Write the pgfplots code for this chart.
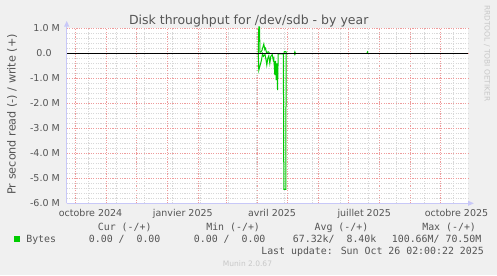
\documentclass[border=0pt]{standalone}
\usepackage{fontspec}
\setmainfont{DejaVu Sans}
\newfontfamily\monofont{DejaVu Sans Mono}
\usepackage{pgfplots}
\pgfplotsset{compat=1.18}
\definecolor{bgc}{HTML}{F0F0F0}
\definecolor{txt}{HTML}{555555}
\definecolor{mgrid}{HTML}{EE9C9C}
\definecolor{mingrid}{HTML}{D8D8D8}
\definecolor{axc}{HTML}{C8C8F8}
\definecolor{munin}{HTML}{00CC00}
\definecolor{wm}{HTML}{C8C8C8}
\pgfplotsset{
  muninaxis/.style={
    at={(66.7bp,71.7bp)}, anchor=south west,
    scale only axis, width=401.3bp, height=175bp,
    xmin=-8.3, xmax=392, ymin=-6, ymax=1,
    axis line style={draw=none},
    major tick length=0pt, minor tick length=0pt,
    tick label style={font=\fontsize{9.5bp}{11bp}\selectfont, text=txt},
  }
}
\begin{document}
\begin{tikzpicture}[x=1bp,y=1bp]
\fill[bgc] (0,0) rectangle (497,275);
\useasboundingbox (0,0) rectangle (497,275);
% grid axis
\begin{axis}[
  muninaxis,
  axis background/.style={fill=white},
  grid=both,
  major grid style={mgrid, dash pattern=on 1.2bp off 1.2bp, line width=0.9bp},
  minor grid style={mingrid, dash pattern=on 1.2bp off 1.2bp, line width=0.9bp},
  xtick={0,31,61,92,123,151,182,212,243,273,304,335,365},
  xticklabels={},
  minor xtick={13,41,69,97,125,153,181,209,237,265,293,321,349,377},
  ytick={-6,-5,-4,-3,-2,-1,0,1},
  yticklabels={-6.0 M,-5.0 M,-4.0 M,-3.0 M,-2.0 M,-1.0 M,0.0\phantom{M},1.0 M},
  minor ytick={-5.8,-5.6,-5.4,-5.2,-4.8,-4.6,-4.4,-4.2,-3.8,-3.6,-3.4,-3.2,-2.8,-2.6,-2.4,-2.2,-1.8,-1.6,-1.4,-1.2,-0.8,-0.6,-0.4,-0.2,0.2,0.4,0.6,0.8},
  yticklabel style={anchor=east, inner sep=0pt, xshift=-6.7bp},
]
\end{axis}
% data axis
\begin{axis}[
  muninaxis,
  clip=false,
  xtick={15.5,107.5,196.5,288.5,380.5},
  xticklabels={octobre 2024,janvier 2025,avril 2025,juillet 2025,octobre 2025},
  ytick=\empty,
  xticklabel style={anchor=base, inner sep=0pt, yshift=-13bp},
]
% write (+)
\addplot[munin, line width=1bp] coordinates {
 (182.8,0) (183.3,1.06) (184,1.06) (184.5,0.05) (185.5,0.05) (186.5,0.12)
 (188.3,0.37) (189.3,0.15) (190,0.2) (191,0.03) (193,0.06) (194,0)
};
\addplot[munin, line width=1bp] coordinates {
 (208.4,0) (208.8,0.07) (210.3,0.07) (210.8,0)
};
\addplot[munin, line width=1bp] coordinates {
 (218.8,0) (219.3,0.06) (219.8,0)
};
\addplot[munin, line width=1bp] coordinates {
 (291.2,0) (291.7,0.05) (292.2,0)
};
% read (-)
\addplot[munin, line width=1bp] coordinates {
 (182.8,0) (183.3,-0.68) (184.5,-0.5) (186,-0.27) (187,-0.02) (188,-0.12)
 (189.5,-0.05) (190.5,-0.25) (191.3,-0.47) (192.3,-0.2) (193.3,-0.1)
 (194.3,-0.4) (195.3,-0.12) (196.7,-0.05) (197.7,-0.27) (198.3,-0.2)
 (199.3,-0.87) (200,-0.3) (200.7,-1.07) (201.3,-0.4) (202,-1.47)
 (202.7,-0.02) (207.8,-0.02) (208.3,-5.44) (210.2,-5.44) (210.6,-0.02) (211,0)
};
\addplot[munin, line width=1bp] coordinates {
 (218.8,0) (219.3,-0.05) (219.8,0)
};
% zero line
\addplot[black, line width=1.2bp] coordinates {(-8.3,0) (392,0)};
\end{axis}
% axis lines with arrows
\draw[axc, line width=1bp] (66.7,71.7) -- (468.5,71.7);
\fill[axc] (468,74.3) -- (473.8,71.7) -- (468,69.1) -- cycle;
\draw[axc, line width=1bp] (66.7,71.7) -- (66.7,249);
\fill[axc] (64.1,248.5) -- (66.7,254) -- (69.3,248.5) -- cycle;
% title
\node[anchor=base, inner sep=0pt, text=txt, font=\fontsize{12.5bp}{15bp}\selectfont] at (248.7,251) {Disk throughput for /dev/sdb - by year};
% y label
\node[rotate=90, anchor=base, inner sep=0pt, text=txt, font=\fontsize{11.2bp}{13bp}\selectfont] at (15.5,160.7) {Pr second read (-) / write (+)};
% watermark
\node[rotate=-90, anchor=base, inner sep=0pt, text=wm, font=\fontsize{7.5bp}{9bp}\selectfont] at (484.7,221.7) {RRDTOOL / TOBI OETIKER};
% legend
\begin{scope}[every node/.style={anchor=base west, inner sep=0pt, text=txt, font=\monofont\fontsize{9.9bp}{12bp}\selectfont}]
\node at (97.7,44.3) {Cur (-/+)};
\node at (206.1,44.3) {Min (-/+)};
\node at (314.4,44.3) {Avg (-/+)};
\node at (422.1,44.3) {Max (-/+)};
\node at (26.1,32.7) {Bytes};
\node at (88.7,32.7) {0.00 /\ \ 0.00};
\node at (193.7,32.7) {0.00 /\ \ 0.00};
\node at (292.7,32.7) {67.32k/\ \ 8.40k};
\node at (391.7,32.7) {100.66M/ 70.50M};
\node at (261.1,20.7) {Last update: Sun Oct 26 02:00:22 2025};
\end{scope}
\fill[munin] (14,33.3) rectangle (19.5,38.7);
\node[anchor=base, inner sep=0pt, text=wm, font=\fontsize{7.5bp}{9bp}\selectfont] at (247.5,8.5) {Munin 2.0.67};
\end{tikzpicture}
\end{document}
